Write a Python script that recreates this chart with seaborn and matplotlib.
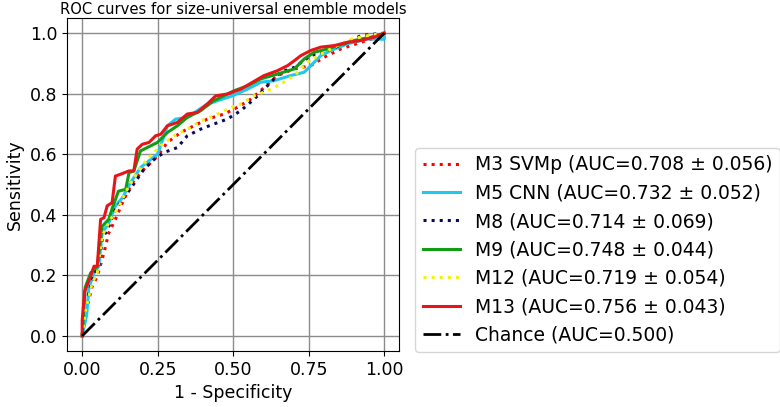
import numpy as np
import pandas as pd
import matplotlib
matplotlib.use("Agg")
import matplotlib.pyplot as plt
import seaborn as sns

# ROC points (1 - specificity, sensitivity)
m3_fpr = [0, 0.011, 0.033, 0.050, 0.072, 0.088, 0.110, 0.138, 0.166, 0.204, 0.249, 0.282, 0.326,
          0.370, 0.414, 0.470, 0.514, 0.558, 0.602, 0.646, 0.702, 0.757, 0.800, 0.856, 0.923, 0.978, 1.0]
m3_tpr = [0, 0.075, 0.163, 0.197, 0.274, 0.340, 0.385, 0.451, 0.506, 0.550, 0.594, 0.639, 0.672,
          0.694, 0.716, 0.733, 0.755, 0.782, 0.820, 0.860, 0.882, 0.893, 0.920, 0.948, 0.970, 0.987, 1.0]

m5_fpr = [0, 0.015, 0.022, 0.039, 0.055, 0.066, 0.088, 0.110, 0.133, 0.160, 0.193, 0.227, 0.249,
          0.260, 0.282, 0.309, 0.348, 0.381, 0.414, 0.448, 0.497, 0.547, 0.591, 0.635, 0.690, 0.735,
          0.757, 0.790, 0.823, 0.878, 0.945, 1.0, 1.0]
m5_tpr = [0, 0.070, 0.160, 0.208, 0.230, 0.340, 0.373, 0.429, 0.456, 0.506, 0.556, 0.583, 0.600,
          0.628, 0.694, 0.716, 0.722, 0.744, 0.766, 0.777, 0.793, 0.815, 0.838, 0.843, 0.860, 0.871,
          0.893, 0.926, 0.943, 0.965, 0.981, 0.980, 1.0]

m8_fpr = [0, 0.006, 0.022, 0.039, 0.055, 0.066, 0.088, 0.110, 0.138, 0.166, 0.204, 0.238, 0.271,
          0.315, 0.348, 0.392, 0.436, 0.480, 0.525, 0.569, 0.613, 0.657, 0.702, 0.757, 0.812, 0.867,
          0.923, 0.967, 1.0]
m8_tpr = [0, 0.075, 0.141, 0.208, 0.230, 0.318, 0.362, 0.418, 0.456, 0.495, 0.550, 0.583, 0.606,
          0.622, 0.661, 0.683, 0.700, 0.716, 0.744, 0.782, 0.826, 0.871, 0.887, 0.926, 0.943, 0.965,
          0.992, 0.997, 1.0]

m9_fpr = [0, 0.010, 0.028, 0.050, 0.066, 0.088, 0.100, 0.120, 0.144, 0.155, 0.171, 0.193, 0.215,
          0.249, 0.282, 0.315, 0.348, 0.392, 0.436, 0.503, 0.547, 0.591, 0.646, 0.702, 0.735, 0.768,
          0.812, 0.845, 0.900, 0.956, 1.0]
m9_tpr = [0, 0.160, 0.208, 0.230, 0.362, 0.385, 0.423, 0.478, 0.484, 0.539, 0.545, 0.611, 0.622,
          0.639, 0.672, 0.694, 0.722, 0.744, 0.777, 0.810, 0.826, 0.849, 0.865, 0.882, 0.915, 0.937,
          0.948, 0.959, 0.976, 0.987, 1.0]

m12_fpr = [0, 0.011, 0.033, 0.050, 0.066, 0.094, 0.122, 0.149, 0.182, 0.215, 0.260, 0.304, 0.348,
           0.392, 0.436, 0.480, 0.525, 0.569, 0.613, 0.657, 0.702, 0.746, 0.790, 0.845, 0.890, 0.945, 1.0]
m12_tpr = [0, 0.086, 0.174, 0.208, 0.330, 0.385, 0.429, 0.484, 0.539, 0.583, 0.628, 0.661, 0.683,
           0.710, 0.727, 0.749, 0.766, 0.793, 0.810, 0.832, 0.860, 0.904, 0.931, 0.959, 0.980, 0.992, 1.0]

m13_fpr = [0, 0.000, 0.008, 0.028, 0.039, 0.050, 0.061, 0.072, 0.083, 0.099, 0.110, 0.127, 0.155,
           0.171, 0.182, 0.199, 0.221, 0.243, 0.260, 0.282, 0.315, 0.348, 0.381, 0.414, 0.442, 0.480,
           0.525, 0.564, 0.602, 0.646, 0.680, 0.702, 0.724, 0.757, 0.790, 0.834, 0.878, 0.923, 0.967, 1.0]
m13_tpr = [0, 0.050, 0.147, 0.197, 0.230, 0.230, 0.385, 0.390, 0.430, 0.440, 0.528, 0.534, 0.545,
           0.545, 0.617, 0.633, 0.639, 0.661, 0.666, 0.694, 0.705, 0.733, 0.738, 0.766, 0.793, 0.799,
           0.815, 0.838, 0.860, 0.876, 0.893, 0.909, 0.926, 0.943, 0.954, 0.959, 0.970, 0.976, 0.987, 1.0]

chance_x = [0, 1]
chance_y = [0, 1]

labels = ["M3 SVMp (AUC=0.708 \u00b1 0.056)", "M5 CNN (AUC=0.732 \u00b1 0.052)",
          "M8 (AUC=0.714 \u00b1 0.069)", "M9 (AUC=0.748 \u00b1 0.044)",
          "M12 (AUC=0.719 \u00b1 0.054)", "M13 (AUC=0.756 \u00b1 0.043)"]

curves = [(m3_fpr, m3_tpr, "red", ":"), (m5_fpr, m5_tpr, "#1ec8f0", "-"),
          (m8_fpr, m8_tpr, "#0a0a5a", ":"), (m9_fpr, m9_tpr, "#119d11", "-"),
          (m12_fpr, m12_tpr, "#f2f20a", ":"), (m13_fpr, m13_tpr, "#e8141a", "-")]

plt.rcParams["font.family"] = ["DejaVu Sans"]
fig = plt.figure(figsize=(7.8, 4.07), dpi=100)
ax = fig.add_axes([0.086, 0.1376, 0.426, 0.818])

for (fpr, tpr, color, ls), lab in zip(curves, labels):
    sns.lineplot(x=fpr, y=tpr, ax=ax, color=color, linestyle=ls, linewidth=2.2,
                 sort=False, estimator=None, label=lab)
sns.lineplot(x=chance_x, y=chance_y, ax=ax, color="black", linestyle="-.", linewidth=2,
             sort=False, estimator=None, label="Chance (AUC=0.500)")

ax.set_xlim(-0.05, 1.05)
ax.set_ylim(-0.05, 1.05)
ax.set_xticks([0, 0.25, 0.5, 0.75, 1.0])
ax.set_yticks([0, 0.2, 0.4, 0.6, 0.8, 1.0])
ax.tick_params(labelsize=12.5)
ax.grid(True, color="#8c8c8c", linewidth=1)
ax.set_axisbelow(True)
ax.set_xlabel("1 - Specificity", fontsize=12.5)
ax.set_ylabel("Sensitivity", fontsize=12.5)
ax.set_title("ROC curves for size-universal enemble models", fontsize=10.6, pad=3)

handles, labs = ax.get_legend_handles_labels()
ax.get_legend().remove()
fig.legend(handles, labs, loc="lower left", bbox_to_anchor=(415 / 780, 55 / 407),
           fontsize=13.5, handlelength=2.0, labelspacing=0.5, borderaxespad=0)

fig.savefig("out.png", dpi=100)
